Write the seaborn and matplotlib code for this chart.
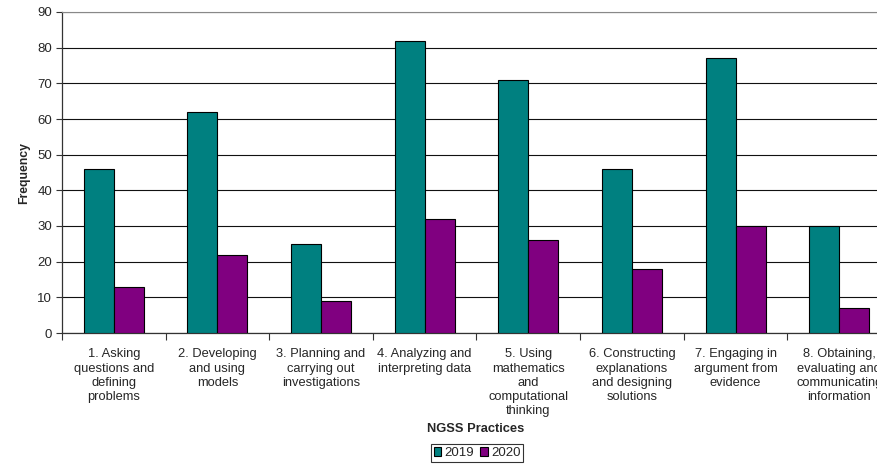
import matplotlib
matplotlib.use("Agg")
import matplotlib.pyplot as plt
import seaborn as sns
import pandas as pd
import numpy as np
from matplotlib.patches import Patch

categories = [
    "1. Asking\nquestions and\ndefining\nproblems",
    "2. Developing\nand using\nmodels",
    "3. Planning and\ncarrying out\ninvestigations",
    "4. Analyzing and\ninterpreting data",
    "5. Using\nmathematics\nand\ncomputational\nthinking",
    "6. Constructing\nexplanations\nand designing\nsolutions",
    "7. Engaging in\nargument from\nevidence",
    "8. Obtaining,\nevaluating and\ncommunicating\ninformation",
]
values_2019 = [46, 62, 25, 82, 71, 46, 77, 30]
values_2020 = [13, 22, 9, 32, 26, 18, 30, 7]
years = ["2019", "2020"]
colors = ["#008080", "#800080"]

df = pd.DataFrame({
    "Practice": categories * 2,
    "Frequency": values_2019 + values_2020,
    "Year": [years[0]] * len(categories) + [years[1]] * len(categories),
})

sns.set_style("white")
plt.rcParams["font.family"] = ["Liberation Sans", "DejaVu Sans"]

fig = plt.figure(figsize=(8.78, 4.68), dpi=100)
ax = fig.add_axes([62 / 878, 1 - 333 / 468, 829 / 878, 321 / 468])

sns.barplot(data=df, x="Practice", y="Frequency", hue="Year", order=categories,
            hue_order=years, palette=colors, width=0.58, gap=0,
            edgecolor="black", linewidth=0.8, saturation=1, ax=ax, legend=False,
            zorder=3)

ax.set_ylim(0, 90)
ax.set_xlim(-0.5, len(categories) - 0.5)
ax.set_yticks(np.arange(0, 91, 10))
ax.yaxis.grid(True, color="#111111", linewidth=0.8, zorder=0)
ax.set_axisbelow(True)
ax.spines["right"].set_visible(False)
ax.spines["top"].set_color("#888888")
ax.spines["left"].set_color("#333333")
ax.spines["bottom"].set_color("#333333")
ax.spines["left"].set_linewidth(0.9)
ax.spines["bottom"].set_linewidth(0.9)

ax.tick_params(axis="y", which="major", left=True, length=4, width=0.8,
               color="#333333", labelsize=9.5, pad=3)
ax.set_xticks(np.arange(len(categories)))
ax.set_xticklabels(categories, fontsize=9.3, linespacing=1.25)
ax.tick_params(axis="x", which="major", bottom=False, length=0, pad=11)
ax.set_xticks(np.arange(-0.5, len(categories) + 0.5, 1), minor=True)
ax.tick_params(axis="x", which="minor", bottom=True, length=5, width=0.8,
               color="#333333")
for lab in ax.get_xticklabels():
    lab.set_verticalalignment("top")

ax.set_ylabel("Frequency", fontsize=8.8, fontweight="bold", labelpad=5)
ax.set_xlabel("")
fig.text(476 / 878, 1 - 429 / 468, "NGSS Practices", ha="center", va="center",
         fontsize=9.3, fontweight="bold")

handles = [Patch(facecolor=c, edgecolor="black", linewidth=0.8, label=y)
           for c, y in zip(colors, years)]
leg = fig.legend(handles=handles, loc="center", ncol=2,
                 bbox_to_anchor=(477 / 878, 1 - 453 / 468), fontsize=9.5,
                 frameon=True, fancybox=False, handlelength=0.6,
                 handleheight=0.6, handletextpad=0.2, columnspacing=0.5,
                 borderpad=0.2, borderaxespad=0)
leg.get_frame().set_edgecolor("black")
leg.get_frame().set_linewidth(0.8)

fig.savefig("out.png", dpi=100)
